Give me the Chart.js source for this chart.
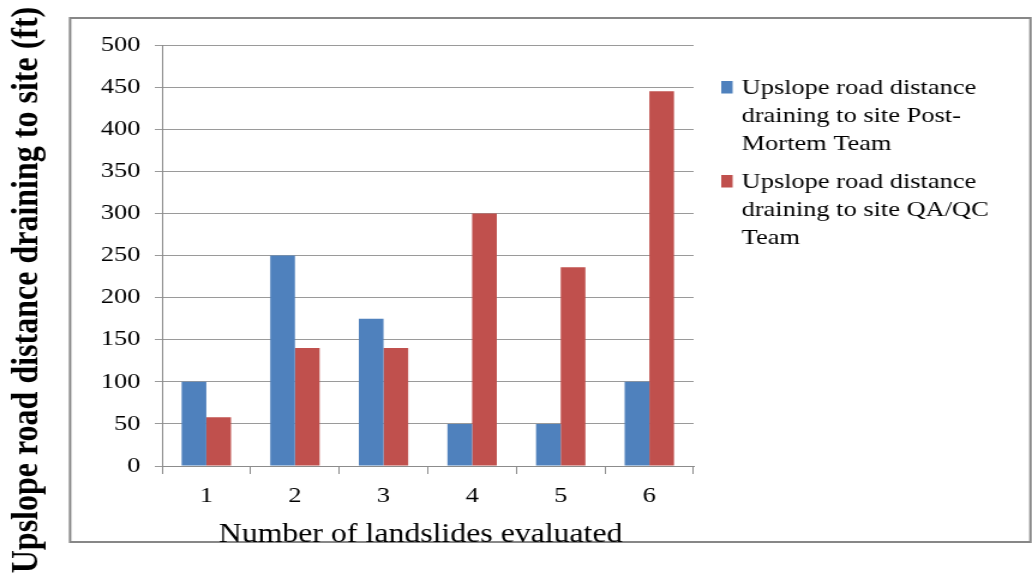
<!DOCTYPE html>
<html>
<head>
<meta charset="utf-8">
<script src="https://cdn.jsdelivr.net/npm/chart.js@4/dist/chart.umd.min.js"></script>
<style>
  html, body { margin: 0; padding: 0; background: #fff; overflow: hidden; }
  /* the chart is laid out on a narrower canvas and widened horizontally */
  #wrap { width: 860px; height: 573px; transform: scaleX(1.2); transform-origin: 0 0; }
  canvas { display: block; }
</style>
</head>
<body>
<div id="wrap"><canvas id="c" width="860" height="573"></canvas></div>
<script>
// Landslide numbers along the x axis
const categories = ['1', '2', '3', '4', '5', '6'];

// Upslope road distance draining to each site (ft)
const postMortemValues = [100, 250, 175, 50, 50, 100];
const qaqcValues = [58, 140, 140, 300, 236, 445];

// Legend entries, one array of wrapped lines per series
const postMortemLabel = ['Upslope road distance', 'draining to site Post-', 'Mortem Team'];
const qaqcLabel = ['Upslope road distance', 'draining to site QA/QC', 'Team'];

const yTicks = [0, 50, 100, 150, 200, 250, 300, 350, 400, 450, 500];
const yTitle = 'Upslope road distance draining to site (ft)';
const xTitle = 'Number of landslides evaluated';

const SERIF = '"Liberation Serif", "Times New Roman", serif';

// white page, outer frame behind the chart
const framePlugin = {
  id: 'frame',
  beforeDraw(chart) {
    const ctx = chart.ctx;
    ctx.save();
    ctx.fillStyle = '#ffffff';
    ctx.fillRect(0, 0, chart.width, chart.height);
    ctx.strokeStyle = '#878787';
    ctx.lineWidth = 2;
    ctx.strokeRect(58.4, 18, 800.3, 524);
    ctx.restore();
  }
};

// axis titles and the wrapped legend on the right
const annotatePlugin = {
  id: 'annotate',
  afterDraw(chart) {
    const ctx = chart.ctx;
    ctx.save();
    ctx.fillStyle = '#000';

    // y axis title, rotated
    ctx.save();
    ctx.translate(31, 290);
    ctx.rotate(-Math.PI / 2);
    ctx.font = 'bold 32px ' + SERIF;
    ctx.textAlign = 'center';
    ctx.textBaseline = 'alphabetic';
    ctx.fillText(yTitle, 0, 0);
    ctx.restore();

    // x axis title
    ctx.font = '26.5px ' + SERIF;
    ctx.textAlign = 'center';
    ctx.textBaseline = 'alphabetic';
    ctx.fillText(xTitle, 350.5, 542);

    // legend
    ctx.font = '22px ' + SERIF;
    ctx.textAlign = 'left';
    const entries = [postMortemLabel, qaqcLabel];
    let baseline = 94;
    chart.data.datasets.forEach((ds, i) => {
      ctx.fillStyle = ds.backgroundColor;
      ctx.fillRect(601, baseline - 13, 9.5, 12.5);
      ctx.fillStyle = '#000';
      entries[i].forEach((line, j) => {
        ctx.fillText(line, 618, baseline + j * 28);
      });
      baseline += entries[i].length * 28 + 10;
    });
    ctx.restore();
  }
};

new Chart(document.getElementById('c'), {
  type: 'bar',
  data: {
    labels: categories,
    datasets: [
      {
        label: postMortemLabel.join(' '),
        data: postMortemValues,
        backgroundColor: '#4F81BD',
        borderWidth: 0
      },
      {
        label: qaqcLabel.join(' '),
        data: qaqcValues,
        backgroundColor: '#C0504D',
        borderWidth: 0
      }
    ]
  },
  options: {
    responsive: false,
    animation: false,
    events: [],
    layout: { padding: { top: 45, right: 282, bottom: 0, left: 0 } },
    datasets: { bar: { categoryPercentage: 0.557, barPercentage: 1 } },
    plugins: {
      legend: { display: false },
      tooltip: { enabled: false },
      title: { display: false }
    },
    scales: {
      x: {
        afterFit(scale) { scale.height = 107; },
        grid: {
          offset: true,
          drawOnChartArea: false,
          drawTicks: true,
          tickLength: 8,
          color: '#8c8c8c',
          lineWidth: 1
        },
        border: { display: true, color: '#8c8c8c', width: 1 },
        ticks: {
          color: '#000',
          font: { family: SERIF, size: 22 },
          padding: 9,
          maxRotation: 0
        }
      },
      y: {
        min: 0,
        max: 500,
        afterFit(scale) { scale.width = 135; },
        afterBuildTicks(scale) { scale.ticks = yTicks.map(v => ({ value: v })); },
        grid: {
          drawTicks: true,
          tickLength: 6,
          color: '#9a9a9a',
          lineWidth: 1
        },
        border: { display: true, color: '#8c8c8c', width: 1 },
        ticks: {
          color: '#000',
          font: { family: SERIF, size: 22 },
          padding: 12
        }
      }
    }
  },
  plugins: [framePlugin, annotatePlugin]
});
</script>
</body>
</html>
